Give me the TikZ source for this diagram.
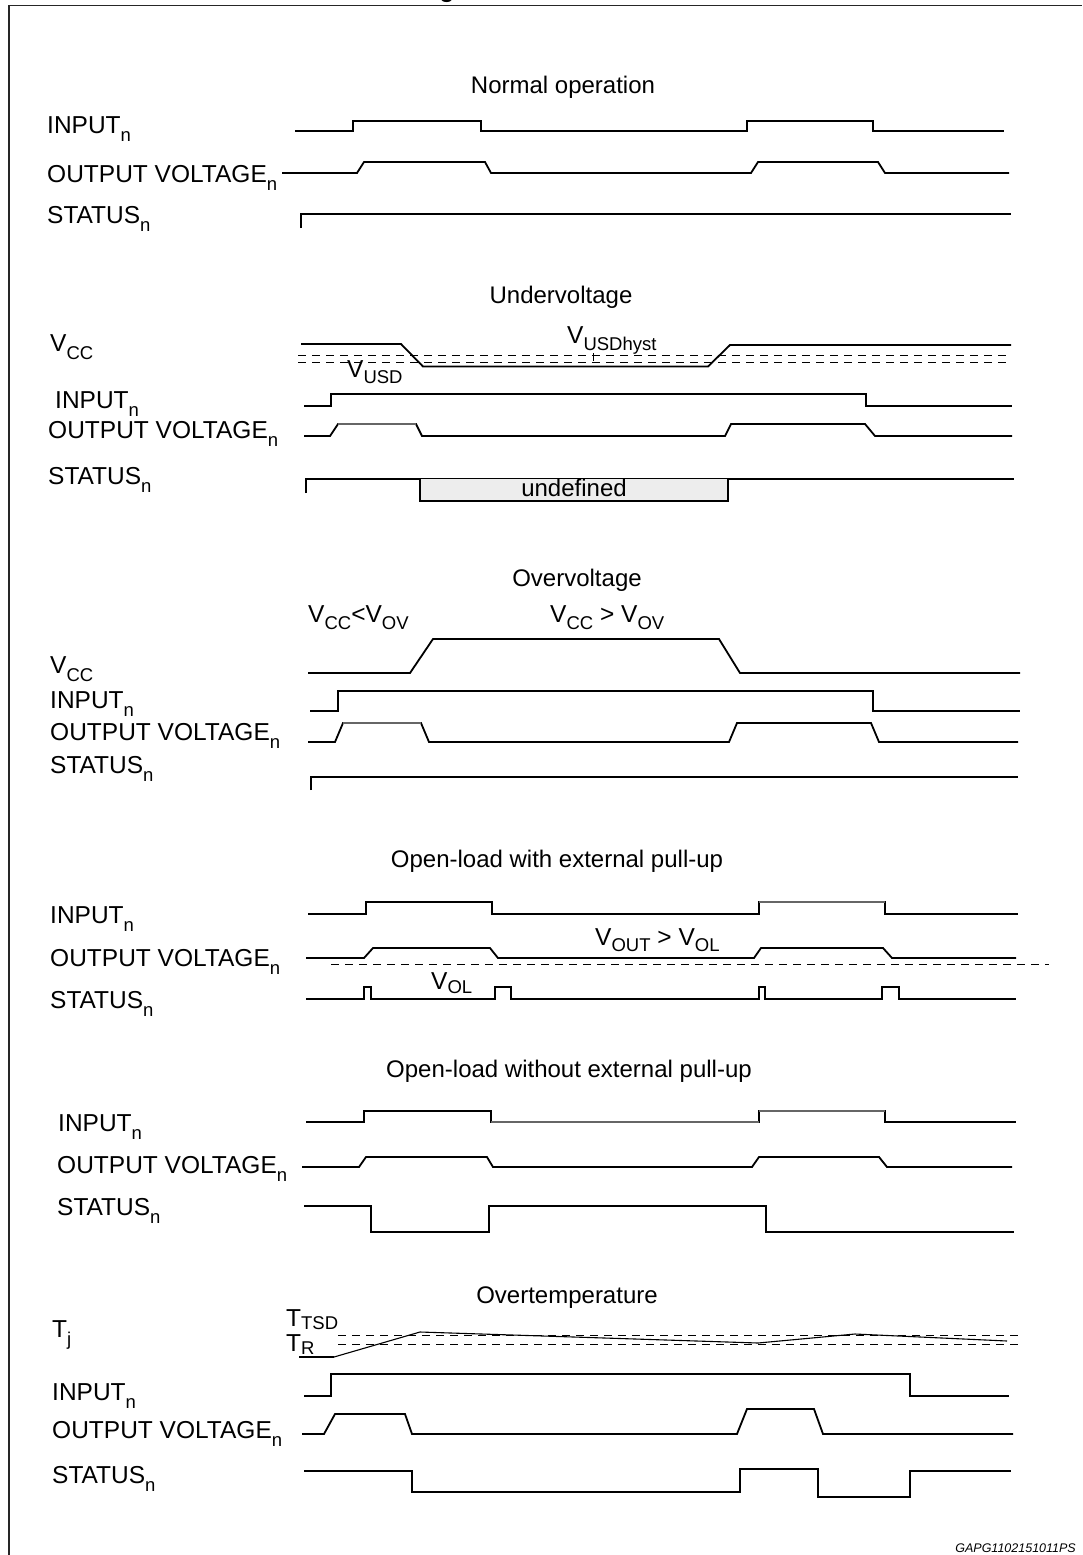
\documentclass[tikz,border=0pt]{standalone}
\usepackage{fontspec}
\setmainfont{Liberation Sans}
\usepackage{graphicx}
\newcommand{\sbs}[1]{\raisebox{-8pt}{\fontsize{18.5}{18.5}\selectfont #1}}
\newcommand{\sbx}[2]{\raisebox{-#1}{\fontsize{18.5}{18.5}\selectfont #2}}
\tikzset{
  wave/.style={line width=1.8pt, line join=miter},
  thinwave/.style={line width=1.1pt},
  greyseg/.style={line width=1.4pt, draw=black!60},
  dline/.style={line width=0.9pt, dash pattern=on 8pt off 6pt},
  lbl/.style={anchor=base west, inner sep=0pt, font=\fontsize{24.5}{28}\selectfont},
  ttl/.style={anchor=base, inner sep=0pt, font=\fontsize{24}{28}\selectfont},
  frm/.style={line width=1.5pt, draw=black!85},
}
\begin{document}
\begin{tikzpicture}[x=1pt,y=-1pt]
\useasboundingbox (0,0) rectangle (1082,1555);
% frame and clipped title fragment
\node[anchor=base, inner sep=0pt, font=\fontsize{24}{28}\selectfont\bfseries] (frag) at (447,-2.5) {g};
\draw[frm] (9,1555) -- (9,5.5) -- (1082,5.5);

% ---------------- Normal operation
\node[ttl] (t1) at (563,93) {Normal operation};
\node[lbl] (a1) at (47,133) {INPUT\sbs{n}};
\node[lbl] (b1) at (47,182) {OUTPUT VOLTAGE\sbs{n}};
\node[lbl] (c1) at (47,223) {STATUS\sbs{n}};
\draw[wave] (295,131)--(353,131)--(353,121)--(481,121)--(481,131)--(747,131)--(747,121)--(873,121)--(873,131)--(1004,131);
\draw[wave] (282,173)--(357,173)--(364,162)--(485,162)--(491,173)--(751,173)--(758,162)--(878,162)--(885,173)--(1009,173);
\draw[wave] (301,228)--(301,214)--(1011,214);

% ---------------- Undervoltage
\node[ttl] (t2) at (561,303) {Undervoltage};
\node[lbl] (v2) at (50,351) {V\sbs{CC}};
\node[lbl] (a2) at (55,408) {INPUT\sbs{n}};
\node[lbl] (b2) at (48,438) {OUTPUT VOLTAGE\sbs{n}};
\node[lbl] (c2) at (48,484) {STATUS\sbs{n}};
\draw[dline] (298,355.5)--(1011,355.5);
\draw[dline] (298,362.5)--(1011,362.5);
\draw[wave] (301,344)--(401,344)--(423,366.5)--(708,366.5)--(730,345)--(1011,345);
\node[lbl] (vusd) at (347,377) {V\sbx{6pt}{USD}};
\node[lbl] (vhys) at (567,343) {V\sbx{7pt}{USDhyst}};
\draw[line width=0.8pt] (593,353)--(593,361);
\draw[wave] (304,406)--(331,406)--(331,394)--(866,394)--(866,406)--(1012,406);
\draw[wave] (304,436)--(330,436)--(338,424)--(416,424)--(422,436)--(725,436)--(731,424)--(865,424)--(875,436)--(1012,436);
\draw[white, line width=2pt] (339,424)--(415,424);
\draw[greyseg] (338,424)--(416,424);
\draw[wave] (306,493)--(306,479)--(1014,479);
\fill[black!7] (420,479) rectangle (728,501);
\draw[wave] (420,479)--(420,501)--(728,501)--(728,479);
\node[anchor=base, inner sep=0pt, font=\fontsize{24}{28}\selectfont] (und) at (574,496) {undefined};

% ---------------- Overvoltage
\node[ttl] (t3) at (577,586) {Overvoltage};
\node[lbl] (o1) at (308,622) {V\sbx{7pt}{CC}<V\sbx{7pt}{OV}};
\node[lbl] (o2) at (550,622) {V\sbx{7pt}{CC} > V\sbx{7pt}{OV}};
\node[lbl] (v3) at (50,673) {V\sbs{CC}};
\node[lbl] (a3) at (50,708) {INPUT\sbs{n}};
\node[lbl] (b3) at (50,740) {OUTPUT VOLTAGE\sbs{n}};
\node[lbl] (c3) at (50,773) {STATUS\sbs{n}};
\draw[wave] (308,673)--(410,673)--(433,639)--(719,639)--(740,673)--(1020,673);
\draw[wave] (310,711)--(338,711)--(338,691)--(873,691)--(873,711)--(1020,711);
\draw[wave] (308,742)--(335,742)--(343,723)--(421,723)--(429,742)--(729,742)--(737,723)--(871,723)--(879,742)--(1018,742);
\draw[white, line width=2pt] (344,723)--(420,723);
\draw[greyseg] (343,723)--(421,723);
\draw[wave] (311,790)--(311,777)--(1018,777);

% ---------------- Open-load with external pull-up
\node[ttl] (t4) at (557,867) {Open-load with external pull-up};
\node[lbl] (a4) at (50,923) {INPUT\sbs{n}};
\node[lbl] (b4) at (50,966) {OUTPUT VOLTAGE\sbs{n}};
\node[lbl] (c4) at (50,1008) {STATUS\sbs{n}};
\draw[wave] (308,914)--(366,914)--(366,902)--(492,902)--(492,914)--(759,914)--(759,902)--(885,902)--(885,914)--(1018,914);
\draw[white, line width=2pt] (760,902)--(884,902);
\draw[greyseg] (759,902)--(885,902);
\draw[wave] (306,958)--(364,958)--(373,948)--(490,948)--(498,958)--(754,958)--(761,948)--(883,948)--(892,958)--(1016,958);
\draw[dline] (331,964)--(1049,964);
\node[lbl] (vout) at (595,945) {V\sbx{6pt}{OUT} > V\sbx{6pt}{OL}};
\node[lbl] (vol) at (431,989) {V\sbx{4pt}{OL}};
\draw[wave] (306,999)--(364,999)--(364,987)--(371,987)--(371,999)--(495,999)--(495,987)--(511,987)--(511,999)--(759,999)--(759,987)--(765,987)--(765,999)--(882,999)--(882,987)--(899,987)--(899,999)--(1016,999);

% ---------------- Open-load without external pull-up
\node[ttl] (t5) at (569,1077) {Open-load without external pull-up};
\node[lbl] (a5) at (58,1131) {INPUT\sbs{n}};
\node[lbl] (b5) at (57,1173) {OUTPUT VOLTAGE\sbs{n}};
\node[lbl] (c5) at (57,1215) {STATUS\sbs{n}};
\draw[wave] (306,1122)--(364,1122)--(364,1111)--(491,1111)--(491,1122)--(759,1122)--(759,1111)--(885,1111)--(885,1122)--(1016,1122);
\draw[white, line width=2pt] (492,1122)--(758,1122) (760,1111)--(884,1111);
\draw[greyseg] (491,1122)--(759,1122) (759,1111)--(885,1111);
\draw[wave] (302,1167)--(359,1167)--(366,1157)--(487,1157)--(493,1167)--(752,1167)--(759,1157)--(879,1157)--(887,1167)--(1012,1167);
\draw[wave] (304,1206)--(371,1206)--(371,1232)--(489,1232)--(489,1206)--(766,1206)--(766,1232)--(1014,1232);

% ---------------- Overtemperature
\node[ttl] (t6) at (567,1303) {Overtemperature};
\node[lbl] (tj) at (52,1337) {T\sbs{j}};
\node[lbl] (ttsd) at (286,1326) {T\sbx{3pt}{TSD}};
\node[lbl] (tr) at (286,1351) {T\sbx{3pt}{R}};
\draw[dline] (338,1335.5)--(1018,1335.5);
\draw[dline] (338,1344)--(1018,1344);
\draw[wave] (299,1357)--(334,1357);
\draw[thinwave] (334,1357)--(420,1332)--(758,1343)--(855,1334)--(1007,1341);
\node[lbl] (a6) at (52,1400) {INPUT\sbs{n}};
\node[lbl] (b6) at (52,1438) {OUTPUT VOLTAGE\sbs{n}};
\node[lbl] (c6) at (52,1483) {STATUS\sbs{n}};
\draw[wave] (304,1396)--(331,1396)--(331,1374)--(910,1374)--(910,1396)--(1009,1396);
\draw[wave] (302,1434)--(324,1434)--(335,1414)--(405,1414)--(412,1434)--(737,1434)--(747,1409)--(814,1409)--(823,1434)--(1013,1434);
\draw[wave] (304,1471)--(412,1471)--(412,1492)--(740,1492)--(740,1469)--(818,1469)--(818,1497)--(910,1497)--(910,1471)--(1011,1471);

\node[anchor=base east, inner sep=0pt, font=\fontsize{12.5}{14}\selectfont\itshape] (code) at (1076,1552) {GAPG1102151011PS};
\end{tikzpicture}
\end{document}
